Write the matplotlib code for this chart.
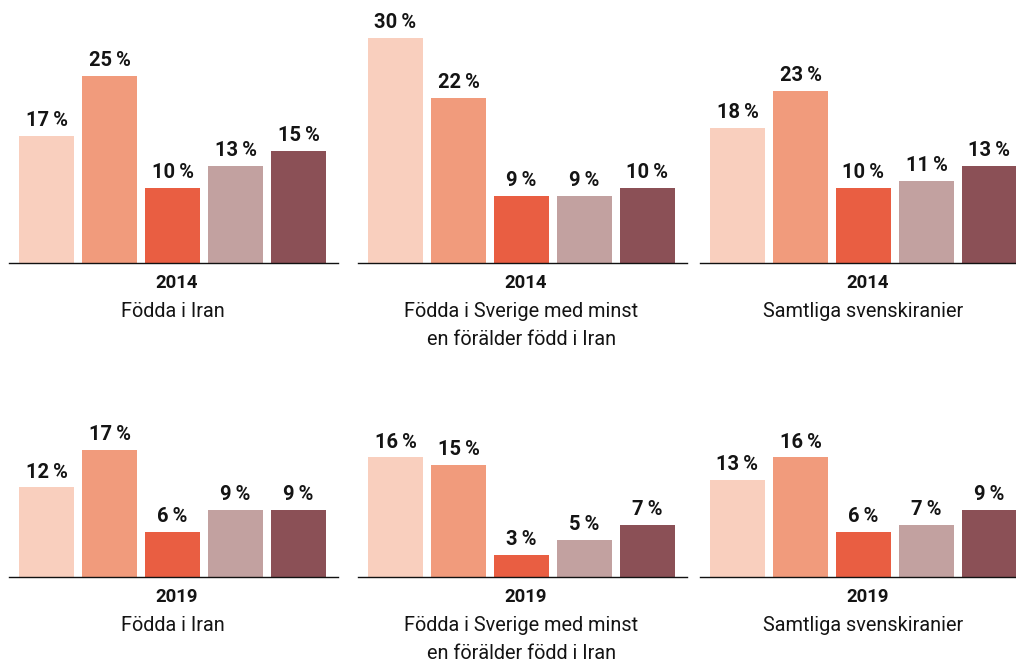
import matplotlib
matplotlib.use("Agg")
import matplotlib.pyplot as plt

plt.rcParams["font.family"] = ["Roboto", "DejaVu Sans"]

# --- data ---------------------------------------------------------------
years = ["2014", "2019"]
groups = [
    ["Födda i Iran"],
    ["Födda i Sverige med minst", "en förälder född i Iran"],
    ["Samtliga svenskiranier"],
]
iran_2014 = [17, 25, 10, 13, 15]
sverige_2014 = [30, 22, 9, 9, 10]
samtliga_2014 = [18, 23, 10, 11, 13]
iran_2019 = [12, 17, 6, 9, 9]
sverige_2019 = [16, 15, 3, 5, 7]
samtliga_2019 = [13, 16, 6, 7, 9]
values = [
    [iran_2014, sverige_2014, samtliga_2014],
    [iran_2019, sverige_2019, samtliga_2019],
]
bar_colors = ["#f9cfbe", "#f19b7c", "#e95e42", "#c2a1a0", "#8b5056"]
text_color = "#141414"

# --- layout (pixels) ----------------------------------------------------
W, H = 1016, 662
pitch = 63.0             # distance between bar centres
bar_w = 55.0 / pitch     # bar width in data units
px_per_pct = 7.5
ymax = 32
first_centre = [46.5, 395.5, 737.5]
baselines = [H - 263, H - 577]   # axis baseline, from bottom
xlo, xhi = -0.6, 4.63

PT = 0.72  # points per pixel at dpi 100

fig = plt.figure(figsize=(W / 100, H / 100), dpi=100)

for r, year in enumerate(years):
    for c, title_lines in enumerate(groups):
        left = first_centre[c] + xlo * pitch
        width = (xhi - xlo) * pitch
        height = ymax * px_per_pct
        ax = fig.add_axes([left / W, baselines[r] / H, width / W, height / H])
        vals = values[r][c]
        xs = list(range(len(vals)))
        ax.bar(xs, vals, width=bar_w, color=bar_colors, zorder=1)
        ax.set_xlim(xlo, xhi)
        ax.set_ylim(0, ymax)
        ax.axis("off")
        ax.axhline(0, color="#111111", lw=1.0, zorder=3, clip_on=False)

        for x, v in zip(xs, vals):
            ax.annotate(f"{v}\u2009%", xy=(x, v), xytext=(0, 9.5 * PT),
                        textcoords="offset points", ha="center", va="baseline",
                        fontsize=14.5, fontweight="bold", color=text_color,
                        annotation_clip=False)

        mid = (xs[0] + xs[-1]) / 2
        ax.annotate(year, xy=(mid, 0), xytext=(4 * PT, -25 * PT),
                    textcoords="offset points", ha="center", va="baseline",
                    fontsize=13.3, fontweight="bold", color=text_color,
                    annotation_clip=False)
        for k, line in enumerate(title_lines):
            ax.annotate(line, xy=(mid, 0), xytext=(0, -(54 + 28 * k) * PT),
                        textcoords="offset points", ha="center", va="baseline",
                        fontsize=14.3, color=text_color,
                        annotation_clip=False)

fig.savefig("out.png", dpi=100)
